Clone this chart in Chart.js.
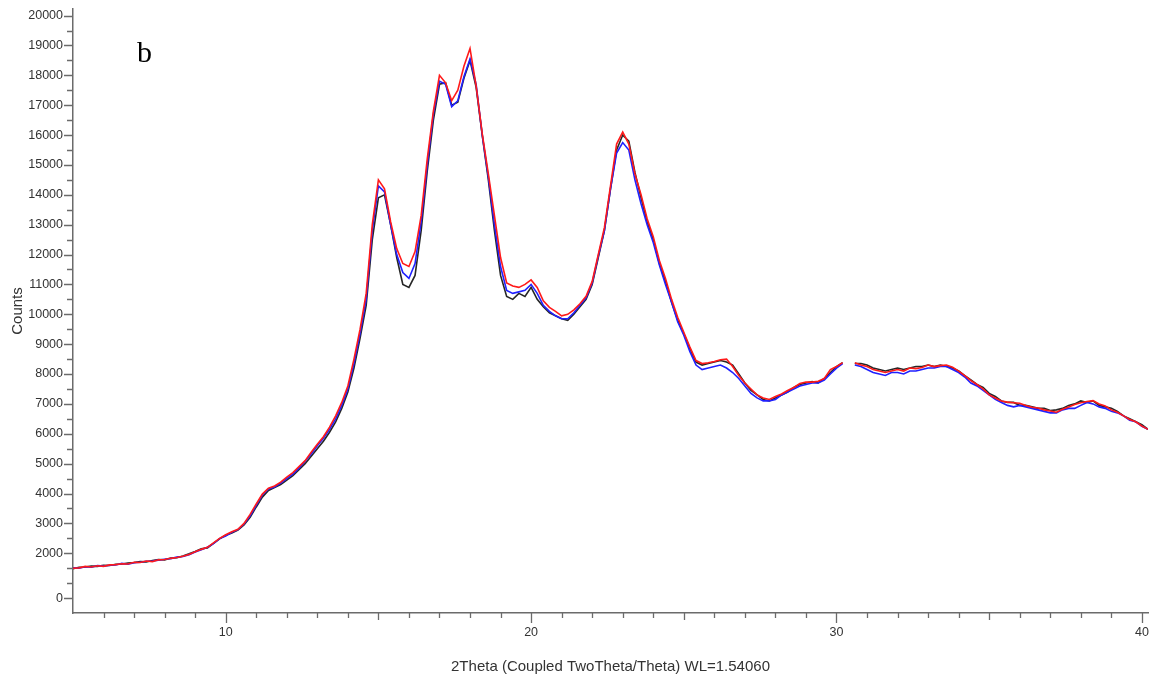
<!DOCTYPE html>
<html>
<head>
<meta charset="utf-8">
<title>XRD pattern b</title>
<script src="https://cdn.jsdelivr.net/npm/chart.js@4.4.1/dist/chart.umd.min.js"></script>
<style>
  html, body { margin: 0; padding: 0; background: #fff; }
  #wrap { width: 1158px; height: 683px; position: relative; }
</style>
</head>
<body>
<div id="wrap"><canvas id="xrdChart"></canvas></div>
<script>
// 2theta positions (degrees)
var theta = [
  5.0, 5.2, 5.4, 5.6, 5.8, 6.0, 6.2, 6.4, 6.6, 6.8,
  7.0, 7.2, 7.4, 7.6, 7.8, 8.0, 8.2, 8.4, 8.6, 8.8,
  9.0, 9.2, 9.4, 9.6, 9.8, 10.0, 10.2, 10.4, 10.6, 10.8,
  11.0, 11.2, 11.4, 11.6, 11.8, 12.0, 12.2, 12.4, 12.6, 12.8,
  13.0, 13.2, 13.4, 13.6, 13.8, 14.0, 14.2, 14.4, 14.6, 14.8,
  15.0, 15.2, 15.4, 15.6, 15.8, 16.0, 16.2, 16.4, 16.6, 16.8,
  17.0, 17.2, 17.4, 17.6, 17.8, 18.0, 18.2, 18.4, 18.6, 18.8,
  19.0, 19.2, 19.4, 19.6, 19.8, 20.0, 20.2, 20.4, 20.6, 20.8,
  21.0, 21.2, 21.4, 21.6, 21.8, 22.0, 22.2, 22.4, 22.6, 22.8,
  23.0, 23.2, 23.4, 23.6, 23.8, 24.0, 24.2, 24.4, 24.6, 24.8,
  25.0, 25.2, 25.4, 25.6, 25.8, 26.0, 26.2, 26.4, 26.6, 26.8,
  27.0, 27.2, 27.4, 27.6, 27.8, 28.0, 28.2, 28.4, 28.6, 28.8,
  29.0, 29.2, 29.4, 29.6, 29.8, 30.0, 30.2, 30.4, 30.6, 30.8,
  31.0, 31.2, 31.4, 31.6, 31.8, 32.0, 32.2, 32.4, 32.6, 32.8,
  33.0, 33.2, 33.4, 33.6, 33.8, 34.0, 34.2, 34.4, 34.6, 34.8,
  35.0, 35.2, 35.4, 35.6, 35.8, 36.0, 36.2, 36.4, 36.6, 36.8,
  37.0, 37.2, 37.4, 37.6, 37.8, 38.0, 38.2, 38.4, 38.6, 38.8,
  39.0, 39.2, 39.4, 39.6, 39.8, 40.0, 40.2
];

// counts, black trace
var countsBlack = [
  1480, 1530, 1540, 1570, 1560, 1600, 1590, 1630, 1640, 1670,
  1690, 1720, 1710, 1760, 1790, 1780, 1840, 1850, 1910, 1980,
  2060, 2150, 2180, 2330, 2480, 2600, 2680, 2780, 2950, 3200,
  3550, 3880, 4100, 4200, 4300, 4450, 4600, 4800, 5000, 5250,
  5500, 5750, 6050, 6400, 6850, 7400, 8200, 9200, 10300, 12500,
  13900, 14000, 13000, 11900, 11000, 10900, 11300, 12800, 14800, 16500,
  17700, 17750, 17000, 17100, 17900, 18500, 17600, 16000, 14500, 12800,
  11300, 10600, 10500, 10700, 10600, 10900, 10500, 10250, 10050, 9950,
  9850, 9800, 10000, 10250, 10500, 11000, 11900, 12800, 14200, 15500,
  16000, 15800, 14750, 13900, 13100, 12500, 11700, 11100, 10400, 9800,
  9350, 8850, 8400, 8300, 8350, 8400, 8450, 8400, 8300, 8000,
  7700, 7450, 7300, 7150, 7100, 7200, 7300, 7400, 7550, 7650,
  7700, 7750, 7700, 7850, 8050, 8250, 8380, null, 8350, 8350,
  8300, 8200, 8150, 8100, 8150, 8200, 8150, 8200, 8250, 8250,
  8300, 8250, 8300, 8250, 8200, 8100, 7950, 7800, 7650, 7550,
  7350, 7250, 7100, 7050, 7050, 6950, 6950, 6900, 6850, 6850,
  6780, 6800, 6850, 6950, 7000, 7100, 7050, 7100, 6950, 6900,
  6850, 6750, 6600, 6500, 6400, 6300, 6150
];

// counts, blue trace
var countsBlue = [
  1510, 1500, 1550, 1530, 1590, 1570, 1600, 1610, 1660, 1630,
  1680, 1700, 1730, 1740, 1770, 1800, 1820, 1870, 1890, 1950,
  2040, 2120, 2200, 2320, 2490, 2580, 2700, 2790, 2980, 3250,
  3600, 3950, 4150, 4220, 4350, 4500, 4650, 4850, 5080, 5320,
  5600, 5850, 6150, 6500, 6950, 7500, 8350, 9350, 10500, 12800,
  14300, 14100, 13000, 12000, 11400, 11200, 11700, 13100, 15000, 16700,
  17800, 17700, 16950, 17150, 17950, 18550, 17700, 16000, 14600, 13000,
  11600, 10800, 10700, 10750, 10800, 11000, 10700, 10300, 10100, 9950,
  9850, 9850, 10050, 10300, 10550, 11050, 11950, 12800, 14200, 15400,
  15750, 15500, 14500, 13700, 13000, 12400, 11650, 11000, 10400, 9750,
  9300, 8750, 8300, 8150, 8200, 8250, 8300, 8200, 8050, 7850,
  7600, 7350, 7200, 7100, 7100, 7150, 7300, 7400, 7500, 7600,
  7650, 7700, 7700, 7800, 8000, 8200, 8350, null, 8300, 8250,
  8150, 8050, 8000, 7950, 8050, 8050, 8000, 8100, 8100, 8150,
  8200, 8200, 8250, 8250, 8150, 8050, 7900, 7700, 7600, 7450,
  7300, 7150, 7050, 6950, 6900, 6950, 6900, 6850, 6800, 6750,
  6700, 6700, 6800, 6850, 6850, 6950, 7050, 7000, 6900, 6850,
  6750, 6700, 6600, 6450, 6400, 6250, 6150
];

// counts, red trace
var countsRed = [
  1500, 1510, 1560, 1540, 1580, 1560, 1610, 1620, 1650, 1640,
  1700, 1690, 1740, 1720, 1780, 1790, 1830, 1860, 1900, 1960,
  2050, 2130, 2200, 2350, 2500, 2620, 2720, 2800, 3000, 3300,
  3650, 3980, 4180, 4250, 4380, 4550, 4700, 4900, 5100, 5380,
  5650, 5900, 6220, 6600, 7050, 7600, 8500, 9500, 10700, 13000,
  14500, 14200, 13100, 12200, 11700, 11600, 12100, 13300, 15200, 16800,
  18000, 17750, 17150, 17500, 18300, 18900, 17650, 16050, 14700, 13300,
  11900, 11050, 10950, 10900, 11000, 11150, 10900, 10450, 10230, 10100,
  9950, 10000, 10150, 10350, 10600, 11100, 12000, 12900, 14300, 15700,
  16100, 15700, 14700, 14000, 13200, 12600, 11800, 11200, 10500, 9900,
  9400, 8900, 8450, 8350, 8380, 8420, 8480, 8500, 8250, 7950,
  7700, 7500, 7300, 7200, 7150, 7250, 7330, 7450, 7550, 7680,
  7730, 7730, 7760, 7850, 8150, 8250, 8380, null, 8380, 8300,
  8250, 8150, 8100, 8050, 8100, 8150, 8100, 8200, 8180, 8220,
  8300, 8250, 8280, 8300, 8230, 8100, 7950, 7780, 7650, 7500,
  7300, 7200, 7100, 7060, 7040, 7020, 6950, 6890, 6860, 6800,
  6760, 6720, 6820, 6900, 6980, 7040, 7080, 7110, 7000, 6930,
  6800, 6720, 6600, 6480, 6400, 6260, 6150
];

var yTickValues = [500, 2000, 3000, 4000, 5000, 6000, 7000, 8000, 9000, 10000,
  11000, 12000, 13000, 14000, 15000, 16000, 17000, 18000, 19000, 20000];
var xTickValues = [10, 20, 30, 40];

var axisColor = '#6b6b6b';
var labelColor = '#333333';

function pairs(ys) {
  return theta.map(function (t, i) { return { x: t, y: ys[i] }; });
}

// tick marks of different lengths, placed with the scales
var tickMarks = {
  id: 'tickMarks',
  afterDraw: function (chart) {
    var ctx = chart.ctx, xs = chart.scales.x, ys = chart.scales.y;
    var area = chart.chartArea;
    ctx.save();
    ctx.strokeStyle = axisColor;
    ctx.lineWidth = 1.3;
    ctx.beginPath();
    for (var v = 500; v <= 20000; v += 500) {
      var py = Math.round(ys.getPixelForValue(v)) + 0.5;
      var major = yTickValues.indexOf(v) >= 0;
      var len = major ? 9 : 6;
      ctx.moveTo(area.left - len, py);
      ctx.lineTo(area.left, py);
    }
    for (var t = 6; t <= 40; t += 1) {
      var px = Math.round(xs.getPixelForValue(t)) + 0.5;
      var l = (t % 10 === 0) ? 10 : (t % 5 === 0 ? 7 : 5);
      ctx.moveTo(px, area.bottom);
      ctx.lineTo(px, area.bottom + l);
    }
    ctx.stroke();

    // panel letter
    ctx.fillStyle = '#000';
    ctx.font = '30px "Liberation Serif", "Times New Roman", serif';
    ctx.textBaseline = 'alphabetic';
    ctx.fillText('b', 137, 62);
    ctx.restore();
  }
};

var ctx = document.getElementById('xrdChart').getContext('2d');
var xrdChart = new Chart(ctx, {
  type: 'line',
  data: {
    datasets: [
      { label: 'red', data: pairs(countsRed), borderColor: '#ff1a1a', order: 0 },
      { label: 'blue', data: pairs(countsBlue), borderColor: '#2020ff', order: 1 },
      { label: 'black', data: pairs(countsBlack), borderColor: '#262626', order: 2 }
    ]
  },
  options: {
    responsive: true,
    maintainAspectRatio: false,
    animation: false,
    parsing: false,
    spanGaps: false,
    layout: { padding: { top: 9, right: 10, left: 0, bottom: 0 } },
    elements: {
      point: { radius: 0, hoverRadius: 0 },
      line: { borderWidth: 1.6, tension: 0 }
    },
    plugins: {
      legend: { display: false },
      tooltip: { enabled: false }
    },
    scales: {
      x: {
        type: 'linear',
        min: 5,
        max: 40.2,
        afterFit: function (s) { s.height = 70; },
        afterBuildTicks: function (s) {
          s.ticks = xTickValues.map(function (v) { return { value: v }; });
        },
        border: { display: true, color: axisColor, width: 1.5 },
        grid: { display: true, drawOnChartArea: false, drawTicks: true, tickLength: 10, tickColor: 'rgba(0,0,0,0)' },
        ticks: {
          color: labelColor,
          padding: 2,
          maxRotation: 0,
          font: { family: '"Liberation Sans", Arial, sans-serif', size: 12.5 },
          callback: function (v) { return String(v); }
        },
        title: {
          display: true,
          text: '2Theta (Coupled TwoTheta/Theta) WL=1.54060',
          color: labelColor,
          font: { family: '"Liberation Sans", Arial, sans-serif', size: 15 },
          padding: { top: 4, bottom: 7 }
        }
      },
      y: {
        type: 'linear',
        min: 0,
        max: 20220,
        afterFit: function (s) { s.width = 73; },
        afterBuildTicks: function (s) {
          s.ticks = yTickValues.map(function (v) { return { value: v }; });
        },
        border: { display: true, color: axisColor, width: 1.5 },
        grid: { display: true, drawOnChartArea: false, drawTicks: true, tickLength: 9, tickColor: 'rgba(0,0,0,0)' },
        ticks: {
          color: labelColor,
          padding: 1,
          font: { family: '"Liberation Sans", Arial, sans-serif', size: 12.5 },
          callback: function (v) { return v === 500 ? '0' : String(v); }
        },
        title: {
          display: true,
          text: 'Counts',
          color: labelColor,
          font: { family: '"Liberation Sans", Arial, sans-serif', size: 15 },
          padding: { top: 9, bottom: 0 }
        }
      }
    }
  },
  plugins: [tickMarks]
});
</script>
</body>
</html>
